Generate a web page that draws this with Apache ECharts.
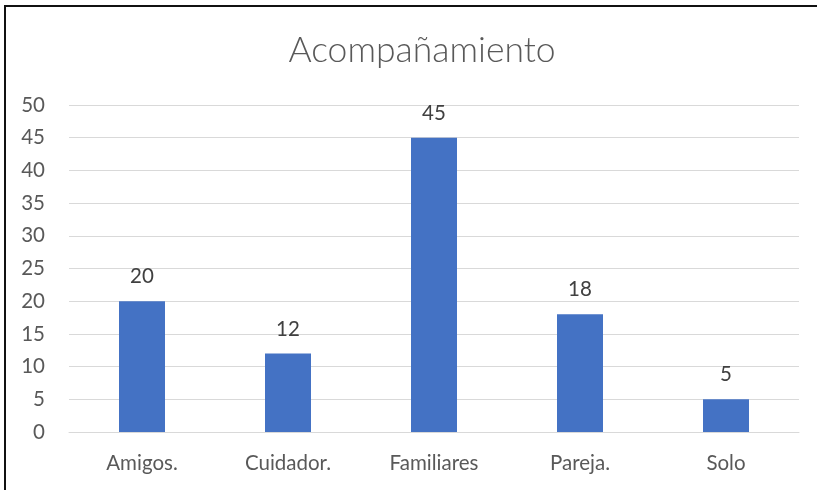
<!DOCTYPE html>
<html>
<head>
<meta charset="utf-8">
<script src="https://cdn.jsdelivr.net/npm/echarts@6/dist/echarts.min.js"></script>
<style>
  html, body { margin: 0; padding: 0; background: #fff; }
  #frame { position: absolute; left: 4px; top: 5px; width: 830px; height: 500px;
           border-top: 2px solid #111; border-left: 2px solid #111; }
  #chart { position: absolute; left: 0; top: 0; width: 817px; height: 490px; }
</style>
</head>
<body>
<div id="frame"></div>
<div id="chart"></div>
<script>
// Acompañamiento: count per companion type
const categories = ['Amigos.', 'Cuidador.', 'Familiares', 'Pareja.', 'Solo'];
const values = [20, 12, 45, 18, 5];
const yMin = 0, yMax = 50, yStep = 5;

const font = 'Lato, "Open Sans", sans-serif';
const chart = echarts.init(document.getElementById('chart'), null, { renderer: 'canvas' });
chart.setOption({
  animation: false,
  backgroundColor: 'transparent',
  title: {
    text: 'Acompañamiento',
    left: 417,
    textAlign: 'center',
    top: 28,
    textStyle: { fontFamily: font, fontSize: 35.5, fontWeight: 300, color: '#595959' }
  },
  grid: { left: 69, right: 18, top: 105, bottom: 58, containLabel: false },
  xAxis: {
    type: 'category',
    data: categories,
    axisLine: { show: true, lineStyle: { color: '#d9d9d9', width: 1 } },
    axisTick: { show: false },
    axisLabel: { color: '#595959', fontFamily: font, fontSize: 20.5, margin: 21 }
  },
  yAxis: {
    type: 'value',
    min: yMin, max: yMax, interval: yStep,
    axisLine: { show: false },
    axisTick: { show: false },
    splitLine: { lineStyle: { color: '#d9d9d9', width: 1 } },
    axisLabel: { color: '#595959', fontFamily: font, fontSize: 20.5, margin: 24 }
  },
  series: [{
    type: 'bar',
    data: values,
    barWidth: 46,
    itemStyle: { color: '#4472c4' },
    label: {
      show: true,
      position: 'top',
      distance: 14,
      color: '#404040',
      fontFamily: font,
      fontSize: 20.5
    }
  }]
});
</script>
</body>
</html>
